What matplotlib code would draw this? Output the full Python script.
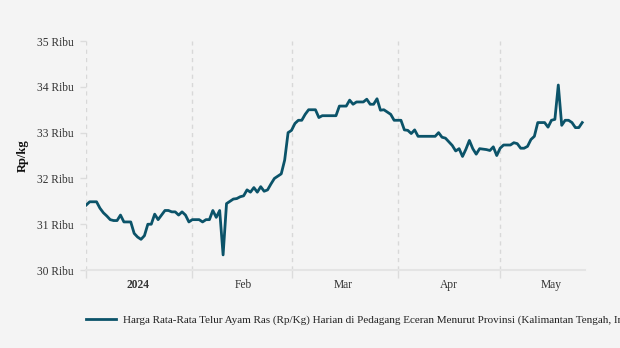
import numpy as np
import pandas as pd
import matplotlib
matplotlib.use("Agg")
import matplotlib.pyplot as plt
import matplotlib.dates as mdates

plt.rcParams['font.family'] = ['Liberation Serif', 'DejaVu Serif']

# daily price, Jan 1 - May 25 2024 (thousand Rp/kg)
dates = pd.date_range("2024-01-01", "2024-05-25", freq="D")
price = [
    31.42, 31.49, 31.49, 31.49, 31.35, 31.25, 31.18, 31.10, 31.08, 31.08,
    31.20, 31.05, 31.05, 31.05, 30.80, 30.72, 30.67, 30.75, 31.00, 31.00,
    31.22, 31.10, 31.20, 31.30, 31.30, 31.27, 31.27, 31.20, 31.27, 31.20,
    31.05, 31.10, 31.10, 31.10, 31.05, 31.10, 31.10, 31.30, 31.15, 31.30,
    30.33, 31.45, 31.50, 31.55, 31.56, 31.60, 31.62, 31.75, 31.70, 31.80,
    31.70, 31.82, 31.72, 31.75, 31.88, 32.00, 32.05, 32.10, 32.40, 33.00,
    33.05, 33.20, 33.27, 33.27, 33.40, 33.50, 33.50, 33.50, 33.33, 33.37,
    33.37, 33.37, 33.37, 33.37, 33.58, 33.58, 33.58, 33.71, 33.62, 33.67,
    33.67, 33.67, 33.73, 33.62, 33.62, 33.74, 33.49, 33.50, 33.45, 33.40,
    33.27, 33.27, 33.27, 33.06, 33.05, 32.98, 33.06, 32.92, 32.92, 32.92,
    32.92, 32.92, 32.92, 33.00, 32.90, 32.88, 32.80, 32.72, 32.60, 32.65,
    32.48, 32.64, 32.83, 32.65, 32.53, 32.65, 32.64, 32.63, 32.61, 32.69,
    32.50, 32.66, 32.73, 32.73, 32.73, 32.78, 32.76, 32.66, 32.66, 32.70,
    32.85, 32.92, 33.22, 33.22, 33.22, 33.12, 33.27, 33.29, 34.04, 33.16,
    33.27, 33.27, 33.22, 33.11, 33.11, 33.22,
]
yticks = [30, 31, 32, 33, 34, 35]
month_starts = pd.to_datetime(["2024-01-01", "2024-02-01", "2024-03-01", "2024-04-01", "2024-05-01"])
month_mids = pd.to_datetime(["2024-01-16", "2024-02-16", "2024-03-16", "2024-04-16", "2024-05-16"])
month_labels = ["2024", "Feb", "Mar", "Apr", "May"]
series_name = "Harga Rata-Rata Telur Ayam Ras (Rp/Kg) Harian di Pedagang Eceran Menurut Provinsi (Kalimantan Tengah, Indonesia)"

bg = "#f4f4f4"
line_col = "#0b5369"

fig = plt.figure(figsize=(6.2, 3.48), dpi=100, facecolor=bg)
ax = fig.add_axes([0.1387, 0.2241, 0.805, 0.6579], facecolor=bg)

ax.plot(dates, price, color=line_col, lw=2.0, solid_joinstyle="round", label=series_name)

ax.set_ylim(30, 35)
ax.set_yticks(yticks)
ax.set_yticklabels([f"{v} Ribu" for v in yticks])
ax.set_xlim(dates[0] - pd.Timedelta(hours=2), dates[-1] + pd.Timedelta(hours=20))

ax.set_xticks(month_starts)
ax.set_xticklabels([])
ax.set_xticks(month_mids, minor=True)
ax.set_xticklabels(month_labels, minor=True)
ax.get_xticklabels(minor=True)[0].set_fontweight("bold")

ax.tick_params(axis="x", which="major", length=6, color="#dcdcdc", width=1)
ax.tick_params(axis="x", which="minor", length=0, pad=6.5, labelsize=8.3, labelcolor="#333333")
ax.tick_params(axis="y", length=4, color="#dcdcdc", width=1, labelsize=8.3, labelcolor="#333333", pad=5)

for d in month_starts:
    ax.axvline(d, color="#d8d8d8", lw=1, ls=(0, (3, 3)), zorder=0)

for s in ["top", "right", "left"]:
    ax.spines[s].set_visible(False)
ax.spines["bottom"].set_color("#e4e4e4")
ax.spines["bottom"].set_linewidth(1.5)

ax.set_ylabel("Rp/kg", fontsize=9, fontweight="bold", color="#111111", labelpad=6)

# legend runs off the right edge, same as the source chart
fig.legend(loc="center left", bbox_to_anchor=(0.139, 0.08), frameon=False,
           fontsize=8, handlelength=2.7, handletextpad=0.6, borderpad=0, borderaxespad=0,
           labelcolor="#222222")

fig.savefig("out.png", dpi=100, facecolor=bg)
